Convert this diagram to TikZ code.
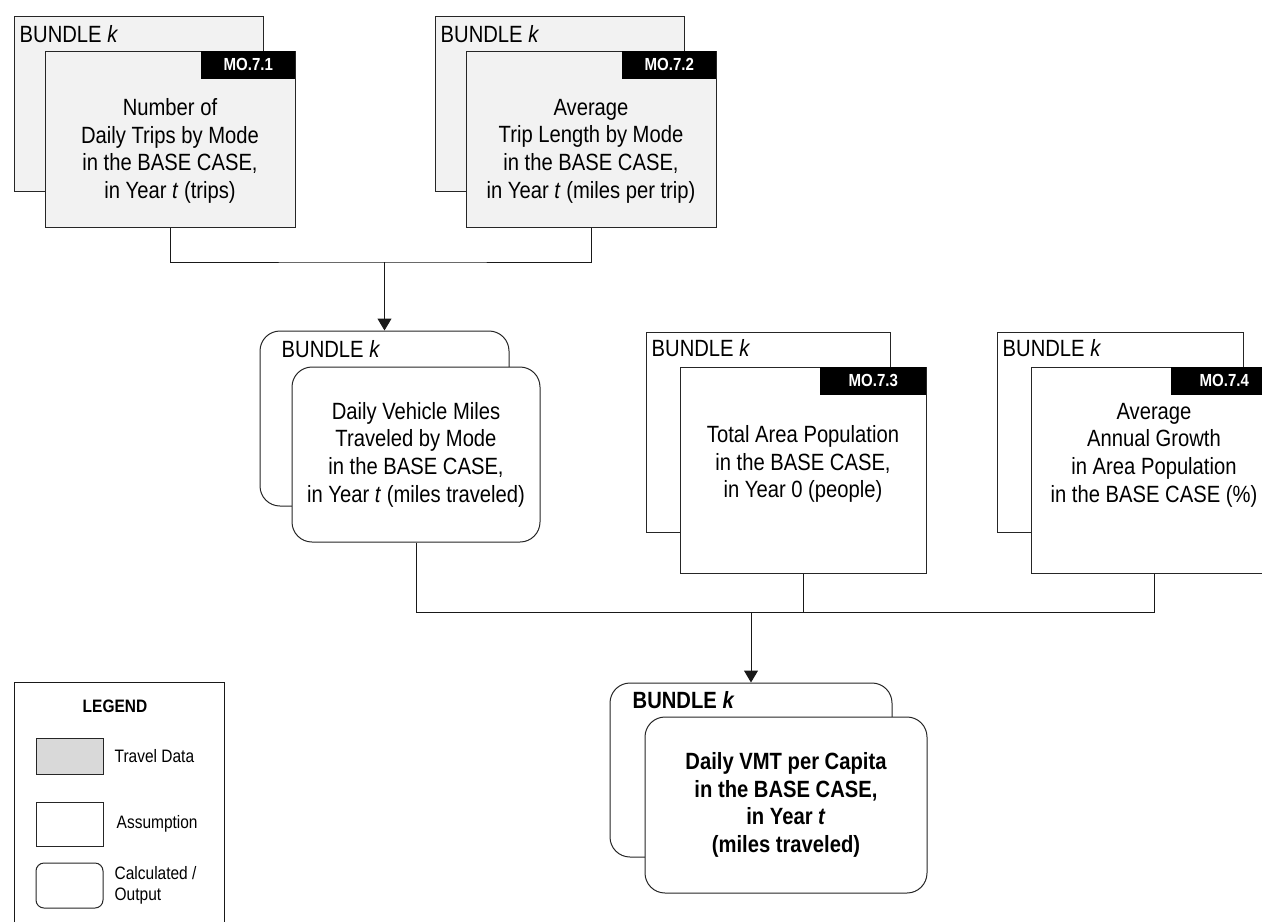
\documentclass[tikz,border=0pt]{standalone}
\usepackage{fontspec}
\setmainfont[FakeStretch=0.86]{Liberation Sans}
\usepackage{xcolor}
\usepackage{tikz}
\usetikzlibrary{arrows.meta,positioning}
\definecolor{datagray}{HTML}{F2F2F2}
\definecolor{leggray}{HTML}{D9D9D9}
\newcommand{\bodyfont}{\fontsize{23.5}{27.7}\selectfont}
\newcommand{\tagfont}{\fontsize{17.5}{20}\selectfont\bfseries}
\newcommand{\legfont}{\fontsize{18}{21}\selectfont}

\begin{document}
\begin{tikzpicture}[x=1pt,y=-1pt,font=\bodyfont,
  datbox/.style={draw=black!85, line width=1pt, fill=datagray, inner sep=0pt},
  asmbox/.style={draw=black!85, line width=1pt, fill=white, inner sep=0pt},
  calcbox/.style={draw=black!85, line width=1pt, fill=white, rounded corners=20pt, inner sep=0pt},
  motag/.style={fill=black, text=white, font=\tagfont, minimum height=28pt, inner sep=0pt, anchor=north east},
  bundle/.style={anchor=base west, inner sep=0pt},
  body/.style={align=center, inner sep=0pt},
  link/.style={draw=black!90, line width=1pt},
  arr/.style={link, -{Triangle[length=12pt,width=14pt]}}]
  \useasboundingbox (0,0) rectangle (1262,922);

  % travel data: trips
  \node[datbox, minimum width=249pt, minimum height=175pt] (trb) at (138.5,103.5) {};
  \node[bundle] (trk) at ([xshift=6pt,yshift=-27pt]trb.north west) {BUNDLE \textit{k}};
  \node[datbox, minimum width=250pt, minimum height=176pt] (trf) at (170,139) {};
  \node[motag, minimum width=94pt] (trtag) at (trf.north east) {MO.7.1};
  \node[body] (trtxt) at ([yshift=-12pt]trf.center) {Number of\\Daily Trips by Mode\\in the BASE CASE,\\in Year \textit{t} (trips)};

  % travel data: trip length
  \node[datbox, minimum width=249pt, minimum height=175pt] (tlb) at (559.5,103.5) {};
  \node[bundle] (tlk) at ([xshift=6pt,yshift=-27pt]tlb.north west) {BUNDLE \textit{k}};
  \node[datbox, minimum width=250pt, minimum height=176pt] (tlf) at (591,139) {};
  \node[motag, minimum width=94pt] (tltag) at (tlf.north east) {MO.7.2};
  \node[body] (tltxt) at ([yshift=-12pt]tlf.center) {Average\\Trip Length by Mode\\in the BASE CASE,\\in Year \textit{t} (miles per trip)};

  % calculated: vehicle miles
  \node[calcbox, minimum width=249pt, minimum height=175pt] (vmb) at (384.5,418.5) {};
  \node[bundle] (vmk) at ([xshift=22pt,yshift=-27pt]vmb.north west) {BUNDLE \textit{k}};
  \node[calcbox, minimum width=248pt, minimum height=175pt] (vmf) at (416,454.5) {};
  \node[body] (vmtxt) at (vmf.center) {Daily Vehicle Miles\\Traveled by Mode\\in the BASE CASE,\\in Year \textit{t} (miles traveled)};

  % assumption: population
  \node[asmbox, minimum width=244pt, minimum height=200pt] (pob) at (768,432) {};
  \node[bundle] (pok) at ([xshift=6pt,yshift=-25pt]pob.north west) {BUNDLE \textit{k}};
  \node[asmbox, minimum width=246pt, minimum height=206pt] (pof) at (803,470) {};
  \node[motag, minimum width=106pt] (potag) at (pof.north east) {MO.7.3};
  \node[body] (potxt) at ([yshift=6pt]pof.center) {Total Area Population\\in the BASE CASE,\\in Year 0 (people)};

  % assumption: growth
  \node[asmbox, minimum width=246pt, minimum height=200pt] (grb) at (1120,432) {};
  \node[bundle] (grk) at ([xshift=6pt,yshift=-25pt]grb.north west) {BUNDLE \textit{k}};
  \node[asmbox, minimum width=246pt, minimum height=206pt] (grf) at (1154,470) {};
  \node[motag, minimum width=106pt] (grtag) at (grf.north east) {MO.7.4};
  \node[body] (grtxt) at ([yshift=15pt]grf.center) {Average\\Annual Growth\\in Area Population\\in the BASE CASE (\%)};

  % output
  \node[calcbox, minimum width=282pt, minimum height=174pt] (outb) at (751,770) {};
  \node[bundle, font=\bodyfont\bfseries] (outk) at ([xshift=23pt,yshift=-26pt]outb.north west) {BUNDLE \textit{k}};
  \node[calcbox, minimum width=282pt, minimum height=176pt] (outf) at (786,805) {};
  \node[body, font=\bodyfont\bfseries] (outtxt) at (outf.center) {Daily VMT per Capita\\in the BASE CASE,\\in Year \textit{t}\\(miles traveled)};

  % connectors
  \coordinate (join1) at (384.5,262);
  \coordinate (join2) at (751,612);
  \draw[link] (trf.south) |- (join1) -| (tlf.south);
  \draw[arr] (join1) -- (vmb.north);
  \draw[link] (vmf.south) |- (grf.south |- join2) -- (grf.south);
  \draw[link] (pof.south) -- (pof.south |- join2);
  \draw[arr] (join2) -- (outb.north);

  % legend
  \draw[link] (14,922) -- (14,682) -- (224,682) -- (224,922);
  \node[font=\legfont\bfseries] (legtitle) at (115,706) {LEGEND};
  \node[datbox, fill=leggray, minimum width=67pt, minimum height=36pt] (legdat) at (69.5,756) {};
  \node[asmbox, minimum width=67pt, minimum height=44pt] (legasm) at (69.5,824) {};
  \node[calcbox, rounded corners=8pt, minimum width=67pt, minimum height=45pt] (legcalc) at (69.5,885.5) {};
  \node[font=\legfont, anchor=west, right=11pt of legdat.east, inner sep=0pt] (legdattxt) {Travel Data};
  \node[font=\legfont, anchor=west, right=13pt of legasm.east, inner sep=0pt] (legasmtxt) {Assumption};
  \node[font=\legfont, align=left, anchor=west, right=11pt of legcalc.east, inner sep=0pt] (legcalctxt) {Calculated /\\Output};
\end{tikzpicture}
\end{document}
